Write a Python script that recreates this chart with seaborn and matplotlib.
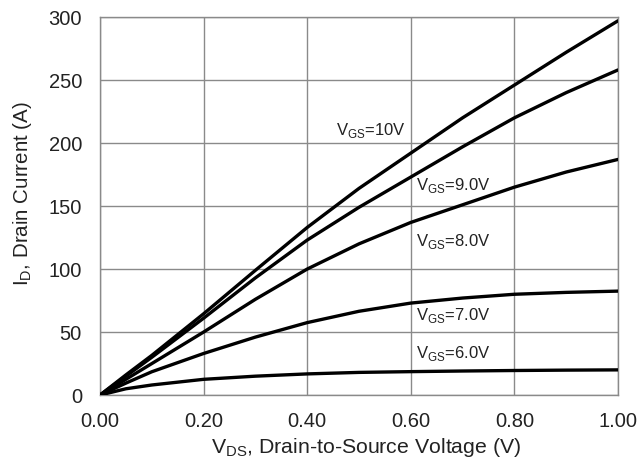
import pandas as pd
import matplotlib
matplotlib.use("Agg")
import matplotlib.pyplot as plt
import seaborn as sns

# V_DS sweep (V)
vds = [0, 0.05, 0.1, 0.2, 0.3, 0.4, 0.5, 0.6, 0.7, 0.8, 0.9, 1.0]

# I_D (A) for each V_GS
id_10v = [0, 16, 31.5, 64.5, 99, 133, 164, 192, 220, 246, 272, 297]
id_9v = [0, 15, 30, 61, 93, 123, 149, 173, 197, 220, 240, 258]
id_8v = [0, 12.5, 25, 50, 76, 100, 120, 137, 151, 165, 177, 187]
id_7v = [0, 9.5, 18.5, 33, 46, 57.5, 66.5, 73, 77, 80, 81.5, 82.5]
id_6v = [0, 5, 8, 12.5, 15, 16.8, 18, 18.6, 19.1, 19.5, 19.8, 20]

series = ["10V", "9.0V", "8.0V", "7.0V", "6.0V"]
currents = [id_10v, id_9v, id_8v, id_7v, id_6v]

# label anchor (x, y) in data units
label_x = [0.455, 0.61, 0.61, 0.61, 0.61]
label_y = [210, 166, 122, 63, 33]

x_ticks = [0, 0.2, 0.4, 0.6, 0.8, 1.0]
y_ticks = [0, 50, 100, 150, 200, 250, 300]

rows = []
for name, vals in zip(series, currents):
    for v, i in zip(vds, vals):
        rows.append({"vds": v, "id": i, "vgs": name})
data = pd.DataFrame(rows)

sns.set_style("white")
plt.rcParams["font.family"] = ["Liberation Sans", "DejaVu Sans"]
plt.rcParams["mathtext.fontset"] = "custom"
plt.rcParams["mathtext.rm"] = "Liberation Sans"

fig = plt.figure(figsize=(6.41, 4.61), dpi=100)
ax = fig.add_axes([0.156, 0.143, 0.808, 0.820])

sns.lineplot(data=data, x="vds", y="id", hue="vgs",
             palette=["black"] * len(series), linewidth=2.4,
             legend=False, ax=ax, zorder=3)
for ln in ax.lines:
    ln.set_solid_joinstyle("round")
    ln.set_solid_capstyle("round")

for name, lx, ly in zip(series, label_x, label_y):
    ax.text(lx, ly, r"V$_{\mathregular{GS}}$=" + name, fontsize=12,
            va="center", ha="left", zorder=2, color="#222222",
            bbox=dict(facecolor="white", edgecolor="none", pad=1.5))

ax.set_xlim(0, 1.0)
ax.set_ylim(0, 300)
ax.set_xticks(x_ticks)
ax.set_xticklabels([f"{t:.2f}" for t in x_ticks])
ax.set_yticks(y_ticks)
ax.grid(True, color="#8a8a8a", linewidth=1.0, zorder=0)
ax.set_axisbelow(True)
for s in ax.spines.values():
    s.set_color("#8a8a8a")
    s.set_linewidth(1.0)
ax.tick_params(length=0, labelsize=14.5, colors="#222222")
ax.tick_params(axis="y", pad=13)
ax.tick_params(axis="x", pad=12)

ax.set_xlabel(r"V$_{\mathregular{DS}}$, Drain-to-Source Voltage (V)", fontsize=15.3,
              color="#222222")
ax.set_ylabel(r"I$_{\mathregular{D}}$, Drain Current (A)", fontsize=14.8,
              color="#222222")
ax.xaxis.set_label_coords(0.514, -0.108)
ax.yaxis.set_label_coords(-0.128, 0.534)

fig.savefig("out.png", dpi=100)
